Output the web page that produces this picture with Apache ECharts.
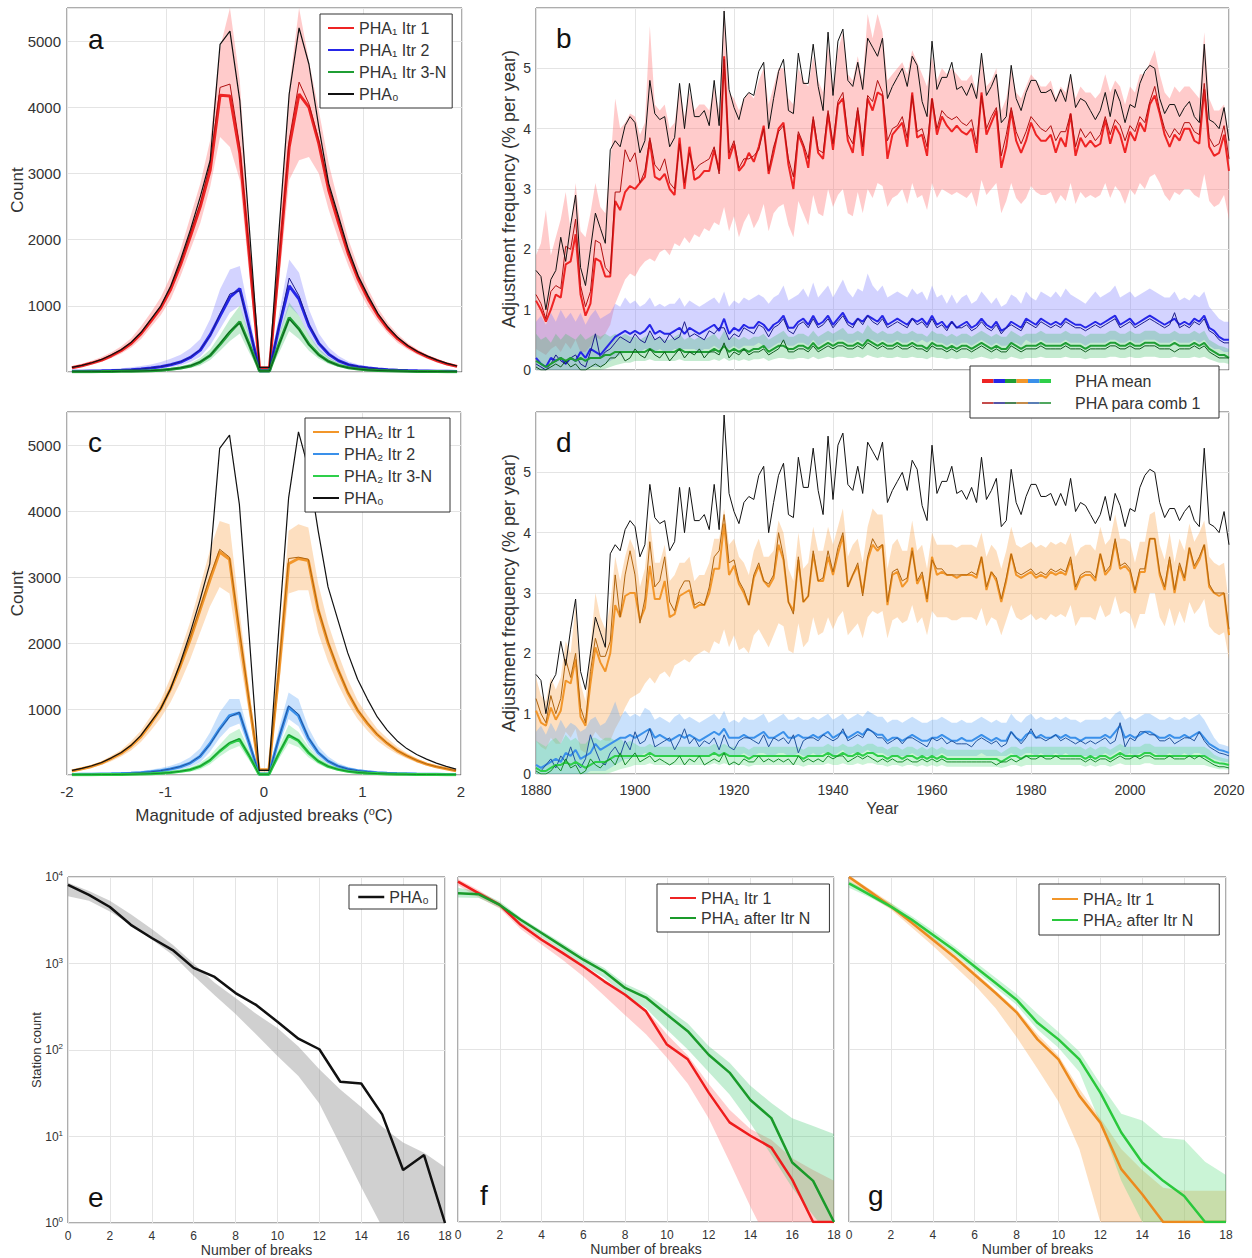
<!DOCTYPE html>
<html>
<head>
<meta charset="utf-8">
<title>PHA adjustments</title>
<script src="https://cdn.jsdelivr.net/npm/echarts@6.0.0/dist/echarts.min.js"></script>
<style>
  html, body { margin: 0; padding: 0; background: #fff; }
  #chart { width: 1252px; height: 1258px; }
</style>
</head>
<body>
<div id="chart"></div>
<script>
// ---------- panels a / c : magnitude of adjusted breaks ----------
const magBins = [-1.95,-1.85,-1.75,-1.65,-1.55,-1.45,-1.35,-1.25,-1.15,-1.05,-0.95,-0.85,-0.75,-0.65,-0.55,-0.45,-0.35,-0.25,-0.15,-0.05,
  0.05,0.15,0.25,0.35,0.45,0.55,0.65,0.75,0.85,0.95,1.05,1.15,1.25,1.35,1.45,1.55,1.65,1.75,1.85,1.95];

const pha0Mag = [70,100,140,190,260,340,450,600,800,1000,1300,1700,2150,2650,3200,4950,5150,4100,2100,70,
  70,2200,4200,5200,4650,3700,2850,2350,1850,1450,1150,880,680,520,400,310,240,180,130,90];

const pha1It1Mean = [65,95,135,180,245,325,430,580,770,970,1250,1620,2050,2500,3050,4180,4170,3300,1700,60,
  60,1700,3400,4200,4000,3450,2750,2250,1780,1400,1100,850,650,500,390,300,230,170,120,85];
const pha1It1Comb = [70,100,140,185,250,330,440,590,790,990,1280,1650,2100,2550,3150,4300,4350,3400,1750,65,
  65,1750,3500,4380,4050,3500,2800,2300,1800,1420,1120,860,660,510,395,305,235,175,125,90];
const pha1It1Lo = [50,75,110,150,210,280,370,500,680,860,1100,1450,1850,2250,2800,3550,3400,2900,1400,40,
  40,1400,2900,3200,3250,3000,2450,2000,1600,1250,980,760,580,440,340,260,195,140,100,65];
const pha1It1Hi = [90,125,170,225,300,390,510,690,900,1130,1450,1850,2350,2850,3500,4900,5500,4400,2100,90,
  90,2200,4300,5500,4700,3950,3150,2550,2000,1580,1250,960,740,570,440,340,260,200,145,105];

const pha1It2Mean = [10,12,15,18,22,28,35,45,60,80,110,150,220,330,560,850,1130,1260,650,20,
  20,700,1300,1100,700,430,270,170,110,80,60,45,35,28,22,18,15,12,10,8];
const pha1It2Comb = [10,12,15,18,22,28,35,45,62,82,112,155,225,340,550,880,1180,1230,640,20,
  20,720,1420,1150,720,440,275,172,112,82,61,46,36,29,23,18,15,12,10,8];
const pha1It2Lo = [5,6,8,10,12,15,20,25,35,50,70,100,150,230,400,650,900,1000,500,10,
  10,550,1000,850,550,330,200,130,80,55,40,30,22,18,14,11,9,7,6,5];
const pha1It2Hi = [20,24,30,35,45,55,70,90,115,150,200,260,360,500,800,1250,1550,1600,850,40,
  40,900,1700,1500,950,580,370,240,160,115,85,65,50,40,32,26,22,18,15,12];

const pha1It3Mean = [3,4,5,6,8,10,12,15,20,28,40,60,90,150,250,420,600,760,400,15,
  15,430,820,650,420,260,160,100,65,45,32,24,18,14,11,9,7,6,5,4];
const pha1It3Comb = [3,4,5,6,8,10,12,15,21,29,42,62,95,155,250,430,620,740,390,15,
  15,420,800,640,410,255,158,98,64,44,31,23,18,14,11,9,7,6,5,4];
const pha1It3Lo = [1,2,2,3,4,5,6,8,11,16,24,38,60,100,180,320,470,580,280,8,
  8,300,620,500,320,200,120,75,48,33,23,17,13,10,8,6,5,4,3,2];
const pha1It3Hi = [6,7,9,11,14,17,21,26,33,44,60,88,130,210,340,560,800,1000,550,25,
  25,580,1050,850,560,350,220,140,95,65,48,36,27,21,17,13,11,9,7,6];

const pha2It1Mean = [60,95,130,180,250,330,440,580,780,1000,1300,1650,2050,2500,2950,3380,3270,2150,1100,80,
  80,1550,3200,3280,3250,2500,2000,1600,1250,980,780,610,480,370,290,220,165,125,95,65];
const pha2It1Comb = [62,97,133,183,255,335,445,590,790,1010,1310,1670,2080,2530,3000,3420,3300,2200,1120,80,
  80,1600,3280,3300,3270,2520,2020,1610,1260,990,790,615,485,375,292,222,167,127,96,66];
const pha2It1Lo = [45,75,105,150,210,280,370,500,670,860,1100,1400,1750,2150,2550,2850,2750,1800,900,60,
  60,1300,2750,2800,2800,2150,1720,1380,1080,850,670,520,410,320,250,190,140,105,80,55];
const pha2It1Hi = [75,115,155,210,290,380,510,670,890,1130,1470,1870,2320,2850,3400,3850,3800,2500,1300,100,
  100,1800,3700,3800,3750,2900,2300,1850,1450,1130,900,700,560,430,335,255,190,145,110,80];

const pha2It2Mean = [8,10,12,15,18,22,28,36,48,65,90,125,180,280,470,700,900,940,480,15,
  15,550,1030,900,560,340,210,135,90,65,48,36,28,22,18,14,12,10,8,7];
const pha2It2Comb = [8,10,12,15,18,22,28,36,48,66,92,128,185,285,460,690,880,950,490,15,
  15,560,1050,920,570,345,212,137,91,66,49,37,28,22,18,14,12,10,8,7];
const pha2It2Lo = [4,5,6,8,10,12,16,20,27,38,55,80,120,190,350,560,720,780,380,8,
  8,430,850,740,450,270,165,105,70,50,37,28,21,17,13,11,9,7,6,5];
const pha2It2Hi = [15,18,22,27,33,40,50,62,80,105,140,190,270,400,640,950,1150,1150,600,30,
  30,700,1250,1150,720,440,280,180,125,90,68,52,40,32,26,21,17,14,12,10];

const pha2It3Mean = [3,4,5,6,7,9,11,14,19,26,37,55,80,130,220,360,480,540,290,10,
  10,320,600,520,340,210,130,85,55,38,28,21,16,13,10,8,7,6,5,4];
const pha2It3Comb = [3,4,5,6,7,9,11,14,19,26,38,56,82,132,225,365,490,550,295,10,
  10,330,610,525,345,212,132,86,56,39,28,21,16,13,10,8,7,6,5,4];
const pha2It3Lo = [1,2,2,3,3,4,5,7,10,14,21,33,50,85,160,280,380,440,220,5,
  5,240,480,420,270,165,100,65,42,29,21,16,12,9,7,6,5,4,3,2];
const pha2It3Hi = [6,7,8,10,12,15,18,23,30,40,55,80,115,180,290,460,620,700,380,20,
  20,420,760,650,430,270,170,110,72,50,37,28,21,17,14,11,9,8,7,6];

// ---------- panels b / d : adjustment frequency per year, 1880-2020 ----------
const years = [];
for (let y = 1880; y <= 2020; y++) years.push(y);

const pha0Year = [
  1.65,1.55,1.0,1.5,1.65,2.2,1.8,2.4,2.9,1.7,
  1.4,2.0,2.6,2.35,2.1,3.65,3.8,3.7,4.05,4.2,
  4.1,3.6,3.8,4.8,4.25,4.15,4.2,3.7,3.85,4.75,
  4.0,4.75,4.2,4.2,4.3,4.05,4.8,4.05,5.95,4.65,
  4.35,4.15,4.5,4.6,4.55,4.95,5.1,4.0,4.5,4.95,
  5.15,4.3,4.25,5.25,4.75,4.75,5.4,4.7,4.3,5.6,
  4.55,5.45,5.65,4.8,4.7,5.1,4.65,5.5,5.35,5.2,
  5.5,4.5,4.7,4.85,5.0,4.7,5.2,5.05,4.45,4.2,
  5.45,4.65,4.85,4.85,5.1,4.65,4.7,4.55,4.75,4.5,
  5.25,4.55,4.7,4.9,4.1,4.2,5.05,4.5,4.3,4.6,
  4.8,4.8,4.6,4.6,4.65,4.45,4.65,4.45,4.9,4.35,
  4.5,4.45,4.3,4.15,4.3,4.6,4.2,4.65,4.45,4.1,
  4.4,4.35,4.75,4.95,5.05,5.0,4.5,4.25,4.4,4.4,
  4.2,4.35,4.45,4.2,4.1,5.4,4.15,4.1,4.0,4.35,
  3.8];

const redMean = [
  1.15,1.0,0.8,1.0,1.25,1.2,1.75,1.8,2.25,1.25,
  0.9,1.1,1.85,1.8,1.55,1.55,2.8,2.65,2.95,3.05,
  3.0,3.1,3.2,3.8,3.2,3.15,3.25,3.0,2.9,3.85,
  3.0,3.7,3.15,3.2,3.3,3.3,3.65,3.3,5.2,3.5,
  3.75,3.3,3.4,3.6,3.45,3.7,4.05,3.25,3.6,4.0,
  4.1,3.4,3.0,3.9,3.7,3.35,4.15,3.6,3.5,4.25,
  3.65,4.4,4.5,3.8,3.6,4.3,3.55,4.5,4.3,4.6,
  4.55,3.5,3.9,4.0,4.1,3.7,4.6,3.85,3.9,3.55,
  4.5,3.9,4.2,4.05,3.95,4.05,3.95,3.9,4.0,3.6,
  4.6,3.9,4.1,4.3,3.35,3.7,4.3,3.8,3.6,3.8,
  4.1,3.9,3.8,3.8,3.9,3.6,3.85,3.7,4.25,3.55,
  3.85,3.7,3.8,3.7,3.75,4.15,3.75,4.05,3.9,3.6,
  3.95,3.8,4.1,3.95,4.4,4.55,4.25,3.9,3.7,3.9,
  3.8,4.0,4.0,3.8,3.75,4.65,3.7,3.55,3.6,3.9,
  3.3];
const redComb = [
  1.25,1.1,0.85,1.3,1.4,1.35,2.05,2.0,2.5,1.4,
  1.05,1.3,2.15,2.1,1.7,1.6,2.95,2.95,3.65,3.45,
  3.6,3.1,3.3,3.85,3.4,3.3,3.5,3.1,3.0,3.75,
  3.1,3.6,3.3,3.4,3.45,3.5,3.7,3.25,5.15,3.6,
  3.8,3.35,3.5,3.5,3.55,3.65,4.0,3.3,3.7,3.95,
  4.05,3.5,3.2,3.95,3.75,3.5,4.2,3.65,3.6,4.3,
  3.75,4.45,4.6,3.9,3.75,4.35,3.7,4.55,4.45,4.8,
  4.6,3.8,4.0,4.05,4.2,3.85,4.55,3.95,4.0,3.7,
  4.5,4.0,4.3,4.2,4.15,4.2,4.1,4.05,4.15,3.75,
  4.55,4.0,4.2,4.35,3.55,3.9,4.35,3.95,3.75,3.95,
  4.2,4.1,4.0,3.95,4.05,3.8,3.95,3.95,4.25,3.7,
  4.0,3.85,3.95,3.8,3.9,4.2,3.9,4.15,4.05,3.8,
  4.05,3.95,4.2,4.1,4.45,4.7,4.3,4.0,3.85,4.0,
  3.9,4.1,4.1,3.95,3.9,4.75,3.85,3.7,3.75,4.05,
  3.5];
const redLo = [
  0.35,0.3,0.25,0.35,0.4,0.3,0.45,0.35,0.5,0.3,
  0.3,0.4,0.55,0.5,0.6,0.75,1.1,1.3,1.5,1.6,
  1.55,1.7,1.8,1.85,1.8,1.95,2.0,1.9,2.1,2.05,
  2.2,2.1,2.25,2.2,2.35,2.3,2.45,2.4,2.7,2.3,
  2.55,2.2,2.45,2.6,2.35,2.5,2.75,2.3,2.6,2.7,
  2.75,2.4,2.2,2.8,2.6,2.4,2.9,2.6,2.55,3.0,
  2.7,2.9,3.0,2.6,2.55,2.95,2.6,3.0,2.85,3.1,
  3.05,2.7,2.85,2.9,3.0,2.75,3.1,2.85,2.9,2.65,
  3.1,2.85,3.0,2.95,2.9,2.95,2.9,2.85,2.95,2.7,
  3.15,2.9,3.0,3.1,2.6,2.8,3.1,2.85,2.75,2.85,
  3.05,2.95,2.9,2.9,2.95,2.75,2.9,2.8,3.1,2.75,
  2.95,2.85,2.9,2.85,2.9,3.1,2.85,3.05,2.95,2.75,
  3.0,2.9,3.1,3.0,3.2,3.25,3.1,2.9,2.8,2.95,
  2.9,3.0,3.0,2.9,2.85,3.25,2.8,2.7,2.75,2.9,
  2.5];
const redHi = [
  1.9,2.1,2.65,1.9,2.2,2.5,2.95,2.3,3.1,2.3,
  2.2,2.6,3.1,2.7,2.6,3.4,4.5,4.0,4.1,4.25,
  4.2,3.9,4.1,5.7,4.4,4.3,4.4,4.0,4.1,4.7,
  4.2,4.6,4.3,4.4,4.4,4.3,4.7,4.3,6.0,4.6,
  4.5,4.3,4.5,4.6,4.5,4.8,5.0,4.4,4.7,5.0,
  5.0,4.5,4.4,5.0,4.8,4.7,5.2,4.8,4.6,5.4,
  4.7,5.3,5.6,4.9,4.8,5.2,4.8,5.9,5.5,5.9,
  5.6,4.8,4.9,5.0,5.1,4.9,5.3,5.1,4.9,4.7,
  5.2,4.8,5.0,4.9,5.0,4.9,4.8,4.8,4.9,4.6,
  5.2,4.7,4.8,5.0,4.3,4.5,5.0,4.6,4.5,4.7,
  4.9,4.8,4.7,4.7,4.8,4.5,4.7,4.6,4.9,4.5,
  4.7,4.6,4.6,4.5,4.6,4.9,4.6,4.8,4.7,4.4,
  4.7,4.6,4.9,4.9,5.1,5.3,4.9,4.6,4.5,4.7,
  4.6,4.7,4.7,4.6,4.5,5.6,4.5,4.3,4.3,4.4,
  3.9];

const blueMean = [
  0.2,0.1,0.05,0.2,0.15,0.2,0.1,0.2,0.15,0.3,
  0.2,0.35,0.3,0.25,0.35,0.45,0.55,0.6,0.65,0.6,
  0.65,0.6,0.65,0.75,0.6,0.65,0.6,0.6,0.65,0.7,
  0.6,0.7,0.65,0.6,0.65,0.7,0.75,0.65,0.85,0.6,
  0.7,0.65,0.75,0.7,0.7,0.8,0.75,0.65,0.75,0.8,
  0.9,0.7,0.7,0.8,0.85,0.75,0.9,0.75,0.8,0.9,
  0.75,0.85,0.95,0.8,0.75,0.85,0.8,0.9,0.85,0.8,
  0.9,0.75,0.8,0.85,0.8,0.75,0.85,0.8,0.85,0.75,
  0.9,0.75,0.8,0.7,0.8,0.7,0.75,0.8,0.7,0.75,
  0.85,0.75,0.7,0.8,0.65,0.7,0.8,0.75,0.7,0.85,
  0.8,0.75,0.85,0.8,0.75,0.8,0.75,0.85,0.8,0.75,
  0.75,0.7,0.75,0.8,0.75,0.8,0.85,0.9,0.75,0.8,
  0.85,0.75,0.8,0.85,0.9,0.85,0.8,0.75,0.8,0.85,
  0.75,0.8,0.75,0.85,0.8,0.9,0.7,0.65,0.55,0.5,
  0.5];
const blueComb = [
  0.1,0.05,0.0,0.1,0.25,0.15,0.1,0.2,0.25,0.1,
  0.05,0.3,0.6,0.2,0.3,0.35,0.45,0.55,0.5,0.45,
  0.6,0.5,0.45,0.65,0.5,0.55,0.45,0.6,0.5,0.55,
  0.8,0.55,0.6,0.55,0.5,0.65,0.6,0.7,0.7,0.5,
  0.6,0.55,0.7,0.65,0.6,0.75,0.7,0.55,0.7,0.75,
  0.85,0.65,0.6,0.75,0.8,0.7,0.85,0.7,0.75,0.85,
  0.7,0.8,0.9,0.75,0.7,0.85,0.75,0.9,0.8,0.75,
  0.85,0.7,0.75,0.8,0.75,0.7,0.85,0.75,0.8,0.7,
  0.85,0.7,0.75,0.65,0.8,0.7,0.7,0.75,0.65,0.7,
  0.8,0.7,0.65,0.75,0.6,0.7,0.75,0.7,0.65,0.8,
  0.75,0.7,0.8,0.75,0.7,0.75,0.7,0.8,0.75,0.7,
  0.7,0.65,0.7,0.75,0.7,0.75,0.8,0.85,0.7,0.75,
  0.8,0.7,0.75,0.8,0.85,0.8,0.75,0.7,0.75,0.95,
  0.7,0.75,0.7,0.8,0.75,0.85,0.65,0.6,0.5,0.45,
  0.45];
const blueLo = [
  0,0,0,0,0,0,0,0,0,0,
  0,0.05,0.05,0.05,0.1,0.15,0.2,0.25,0.3,0.3,
  0.3,0.3,0.35,0.35,0.3,0.35,0.3,0.3,0.35,0.35,
  0.35,0.35,0.35,0.3,0.35,0.35,0.4,0.35,0.4,0.35,
  0.4,0.35,0.4,0.4,0.4,0.45,0.4,0.35,0.4,0.45,
  0.45,0.4,0.4,0.45,0.45,0.4,0.5,0.4,0.45,0.5,
  0.45,0.5,0.5,0.45,0.45,0.5,0.45,0.5,0.5,0.45,
  0.5,0.45,0.45,0.5,0.45,0.45,0.5,0.45,0.5,0.45,
  0.5,0.45,0.45,0.4,0.45,0.4,0.45,0.45,0.4,0.45,
  0.5,0.45,0.4,0.45,0.4,0.4,0.45,0.45,0.4,0.5,
  0.45,0.45,0.5,0.45,0.45,0.45,0.45,0.5,0.45,0.45,
  0.45,0.4,0.45,0.45,0.45,0.45,0.5,0.5,0.45,0.45,
  0.5,0.45,0.45,0.5,0.5,0.5,0.45,0.45,0.45,0.5,
  0.45,0.45,0.45,0.5,0.45,0.5,0.4,0.35,0.35,0.3,
  0.3];
const blueHi = [
  0.8,0.9,0.75,0.95,0.8,1.0,0.85,0.95,0.8,0.95,
  0.75,0.9,1.0,0.85,0.9,0.95,1.1,1.05,1.2,1.1,
  1.15,1.05,1.1,1.2,1.05,1.1,1.05,1.1,1.1,1.2,
  1.05,1.15,1.1,1.05,1.1,1.15,1.2,1.1,1.3,1.05,
  1.15,1.1,1.2,1.15,1.2,1.25,1.2,1.1,1.2,1.25,
  1.4,1.15,1.2,1.25,1.35,1.2,1.45,1.2,1.3,1.4,
  1.2,1.35,1.5,1.3,1.2,1.35,1.3,1.6,1.4,1.3,
  1.4,1.2,1.25,1.3,1.25,1.2,1.35,1.25,1.3,1.15,
  1.4,1.2,1.25,1.1,1.25,1.1,1.2,1.25,1.1,1.15,
  1.3,1.2,1.1,1.2,1.05,1.1,1.25,1.2,1.1,1.3,
  1.2,1.15,1.3,1.25,1.2,1.3,1.2,1.35,1.25,1.2,
  1.15,1.1,1.2,1.3,1.2,1.25,1.3,1.4,1.2,1.25,
  1.3,1.2,1.25,1.3,1.35,1.3,1.25,1.2,1.2,1.3,
  1.15,1.2,1.15,1.25,1.2,1.3,1.05,0.95,0.85,0.8,
  0.8];

const greenMean = [
  0.15,0.1,0.05,0.1,0.15,0.2,0.15,0.2,0.15,0.2,
  0.15,0.2,0.2,0.2,0.25,0.25,0.3,0.3,0.3,0.3,
  0.3,0.3,0.3,0.35,0.3,0.3,0.3,0.3,0.3,0.35,
  0.3,0.3,0.3,0.3,0.3,0.3,0.35,0.3,0.4,0.3,
  0.35,0.3,0.35,0.3,0.35,0.35,0.4,0.3,0.35,0.4,
  0.4,0.35,0.35,0.4,0.4,0.35,0.45,0.35,0.4,0.45,
  0.4,0.45,0.45,0.4,0.4,0.45,0.4,0.5,0.45,0.4,
  0.45,0.4,0.4,0.45,0.4,0.4,0.45,0.4,0.4,0.35,
  0.45,0.4,0.4,0.35,0.4,0.35,0.4,0.4,0.35,0.4,
  0.45,0.4,0.35,0.4,0.35,0.35,0.45,0.4,0.35,0.4,
  0.4,0.4,0.45,0.4,0.4,0.4,0.4,0.45,0.4,0.4,
  0.4,0.35,0.4,0.4,0.4,0.4,0.45,0.45,0.4,0.4,
  0.45,0.4,0.4,0.45,0.45,0.45,0.4,0.4,0.4,0.45,
  0.4,0.4,0.4,0.45,0.4,0.45,0.35,0.3,0.25,0.25,
  0.2];
const greenComb = [
  0.05,0.0,0.0,0.05,0.1,0.05,0.15,0.05,0.1,0.0,
  0.0,0.05,0.1,0.05,0.1,0.2,0.2,0.3,0.15,0.2,
  0.35,0.25,0.2,0.35,0.25,0.2,0.3,0.15,0.25,0.35,
  0.2,0.3,0.25,0.35,0.2,0.3,0.3,0.25,0.45,0.2,
  0.3,0.25,0.35,0.25,0.3,0.3,0.35,0.25,0.3,0.35,
  0.5,0.3,0.3,0.35,0.35,0.3,0.4,0.3,0.35,0.4,
  0.35,0.4,0.4,0.35,0.35,0.4,0.35,0.45,0.4,0.35,
  0.4,0.35,0.35,0.4,0.35,0.35,0.4,0.35,0.35,0.3,
  0.4,0.35,0.35,0.3,0.35,0.3,0.35,0.35,0.3,0.35,
  0.4,0.35,0.3,0.35,0.3,0.3,0.4,0.35,0.3,0.35,
  0.35,0.35,0.4,0.35,0.35,0.35,0.35,0.4,0.35,0.35,
  0.35,0.3,0.35,0.35,0.35,0.35,0.4,0.4,0.35,0.35,
  0.4,0.35,0.35,0.4,0.4,0.4,0.35,0.35,0.35,0.3,
  0.35,0.35,0.35,0.4,0.35,0.4,0.3,0.25,0.2,0.2,
  0.2];
const greenLo = [
  0,0,0,0,0,0,0,0,0,0,
  0,0,0,0,0.02,0.05,0.08,0.1,0.12,0.12,
  0.15,0.15,0.15,0.18,0.15,0.15,0.15,0.15,0.15,0.18,
  0.15,0.15,0.15,0.15,0.15,0.15,0.18,0.15,0.2,0.15,
  0.18,0.15,0.18,0.15,0.18,0.18,0.2,0.15,0.18,0.2,
  0.2,0.18,0.18,0.2,0.2,0.18,0.22,0.18,0.2,0.22,
  0.2,0.22,0.22,0.2,0.2,0.22,0.2,0.25,0.22,0.2,
  0.22,0.2,0.2,0.22,0.2,0.2,0.22,0.2,0.2,0.18,
  0.22,0.2,0.2,0.18,0.2,0.18,0.2,0.2,0.18,0.2,
  0.22,0.2,0.18,0.2,0.18,0.18,0.22,0.2,0.18,0.2,
  0.2,0.2,0.22,0.2,0.2,0.2,0.2,0.22,0.2,0.2,
  0.2,0.18,0.2,0.2,0.2,0.2,0.22,0.22,0.2,0.2,
  0.22,0.2,0.2,0.22,0.22,0.22,0.2,0.2,0.2,0.22,
  0.2,0.2,0.2,0.22,0.2,0.22,0.18,0.15,0.12,0.12,
  0.1];
const greenHi = [
  0.6,0.5,0.55,0.45,0.6,0.5,0.6,0.55,0.5,0.6,
  0.5,0.55,0.6,0.55,0.6,0.55,0.6,0.55,0.6,0.55,
  0.55,0.5,0.55,0.6,0.5,0.55,0.5,0.5,0.55,0.6,
  0.5,0.55,0.5,0.55,0.5,0.55,0.6,0.5,0.65,0.5,
  0.55,0.5,0.55,0.5,0.55,0.55,0.6,0.5,0.55,0.6,
  0.65,0.55,0.55,0.6,0.6,0.55,0.65,0.55,0.6,0.65,
  0.6,0.65,0.7,0.6,0.6,0.65,0.6,0.75,0.65,0.6,
  0.65,0.6,0.6,0.65,0.6,0.6,0.65,0.6,0.6,0.55,
  0.65,0.6,0.6,0.55,0.6,0.55,0.6,0.6,0.55,0.6,
  0.65,0.6,0.55,0.6,0.55,0.55,0.65,0.6,0.55,0.6,
  0.6,0.6,0.65,0.6,0.6,0.6,0.6,0.65,0.6,0.6,
  0.6,0.55,0.6,0.6,0.6,0.6,0.65,0.65,0.6,0.6,
  0.65,0.6,0.6,0.65,0.65,0.65,0.6,0.6,0.6,0.65,
  0.6,0.6,0.6,0.65,0.6,0.65,0.5,0.45,0.4,0.38,
  0.35];

const orangeMean = [
  1.05,0.85,0.8,1.1,0.9,1.05,1.55,1.5,1.9,0.95,
  0.8,1.5,2.1,1.85,1.7,2.0,2.8,2.6,2.95,3.0,
  3.0,2.55,2.75,3.45,2.9,2.9,3.2,2.6,2.65,2.95,
  3.0,3.05,2.75,2.8,2.8,3.0,3.4,3.4,4.15,3.3,
  3.45,3.15,3.0,2.8,3.25,3.45,3.2,3.1,3.25,3.8,
  3.55,2.85,2.7,3.55,2.85,2.95,3.65,3.2,3.2,3.6,
  3.3,3.65,3.95,3.1,3.3,3.45,3.0,3.55,3.8,3.7,
  3.8,2.8,3.3,3.35,3.1,3.2,3.75,3.15,3.3,2.85,
  3.6,3.3,3.35,3.3,3.3,3.25,3.3,3.3,3.3,3.25,
  3.6,3.05,3.35,3.2,2.85,3.2,3.65,3.3,3.25,3.3,
  3.35,3.25,3.3,3.25,3.35,3.3,3.35,3.3,3.55,3.05,
  3.25,3.3,3.3,3.2,3.65,3.3,3.4,3.85,3.4,3.45,
  3.35,3.0,3.35,3.35,3.9,3.9,3.3,3.05,3.55,3.0,
  3.45,3.2,3.75,3.4,3.55,3.8,3.1,3.0,2.95,3.0,
  2.3];
const orangeComb = [
  1.25,1.0,0.85,1.3,1.0,1.25,1.9,1.6,2.0,1.1,
  0.85,1.7,2.25,1.95,1.95,2.2,3.3,2.6,3.3,3.7,
  3.3,2.5,2.9,3.85,3.1,3.2,3.6,2.85,2.7,3.05,
  3.2,3.2,2.8,2.85,2.8,3.1,3.6,3.7,4.3,3.5,
  3.55,3.2,3.05,2.8,3.3,3.5,3.2,3.15,3.3,4.0,
  3.6,2.85,2.65,3.6,2.85,2.95,3.7,3.2,3.25,3.7,
  3.35,3.75,4.0,3.1,3.3,3.5,2.95,3.6,3.9,3.75,
  3.8,2.85,3.35,3.4,3.2,3.25,3.7,3.2,3.35,2.9,
  3.55,3.4,3.4,3.3,3.3,3.3,3.3,3.3,3.35,3.3,
  3.6,3.1,3.35,3.25,2.9,3.25,3.65,3.35,3.3,3.35,
  3.4,3.3,3.35,3.3,3.4,3.35,3.4,3.35,3.6,3.1,
  3.3,3.35,3.35,3.25,3.65,3.35,3.45,3.9,3.45,3.5,
  3.4,3.05,3.4,3.4,3.9,3.9,3.35,3.1,3.6,3.05,
  3.5,3.25,3.75,3.45,3.6,3.8,3.15,3.0,3.0,3.0,
  2.4];
const orangeLo = [
  0.55,0.45,0.4,0.6,0.5,0.5,0.7,0.6,0.75,0.4,
  0.35,0.55,0.7,0.6,0.55,0.55,0.75,0.9,1.1,1.25,
  1.3,1.35,1.5,1.6,1.5,1.65,1.7,1.6,1.8,1.85,
  1.9,1.85,1.95,2.0,2.05,2.0,2.2,2.15,2.4,2.1,
  2.3,2.05,2.1,2.0,2.3,2.4,2.25,2.1,2.3,2.5,
  2.45,2.05,2.0,2.5,2.1,2.2,2.6,2.3,2.35,2.6,
  2.4,2.6,2.7,2.3,2.4,2.5,2.25,2.6,2.7,2.65,
  2.7,2.25,2.55,2.6,2.5,2.55,2.8,2.5,2.6,2.3,
  2.7,2.6,2.6,2.6,2.55,2.55,2.6,2.6,2.6,2.55,
  2.75,2.45,2.6,2.55,2.3,2.55,2.8,2.6,2.55,2.6,
  2.65,2.55,2.6,2.55,2.65,2.6,2.65,2.6,2.8,2.45,
  2.6,2.6,2.6,2.55,2.8,2.6,2.65,2.95,2.65,2.7,
  2.65,2.4,2.65,2.65,3.0,3.0,2.6,2.45,2.75,2.45,
  2.7,2.5,2.85,2.65,2.75,2.9,2.45,2.35,2.3,2.35,
  1.9];
const orangeHi = [
  1.6,1.3,1.2,1.6,1.4,1.6,2.2,2.0,2.8,1.5,
  1.2,2.1,3.0,2.6,2.4,2.8,3.6,3.2,3.6,3.9,
  3.7,3.1,3.4,4.2,3.5,3.5,3.8,3.2,3.3,3.5,
  3.5,3.6,3.2,3.3,3.3,3.5,3.9,3.9,4.4,3.8,
  3.9,3.6,3.5,3.3,3.7,3.9,3.6,3.6,3.7,4.2,
  4.0,3.4,3.2,4.0,3.4,3.5,4.1,3.7,3.7,4.1,
  3.8,4.1,4.4,3.6,3.8,3.9,3.5,4.1,4.4,4.3,
  4.3,3.4,3.8,3.9,3.7,3.7,4.2,3.7,3.8,3.4,
  4.0,3.8,3.8,3.8,3.8,3.75,3.8,3.8,3.8,3.75,
  4.0,3.6,3.8,3.7,3.4,3.7,4.1,3.8,3.75,3.8,
  3.85,3.75,3.8,3.75,3.85,3.8,3.85,3.8,4.0,3.6,
  3.75,3.8,3.8,3.7,4.1,3.8,3.9,4.3,3.9,3.9,
  3.85,3.5,3.85,3.85,4.3,4.35,3.8,3.55,4.0,3.5,
  3.9,3.7,4.15,3.85,4.0,4.2,3.6,3.5,3.45,3.5,
  2.8];

const ltBlueMean = [
  0.15,0.1,0.15,0.2,0.25,0.2,0.35,0.3,0.4,0.25,
  0.3,0.35,0.5,0.4,0.45,0.5,0.55,0.6,0.6,0.65,
  0.6,0.65,0.7,0.75,0.6,0.65,0.6,0.55,0.6,0.65,
  0.6,0.65,0.6,0.55,0.6,0.65,0.7,0.65,0.75,0.6,
  0.6,0.6,0.65,0.6,0.6,0.65,0.7,0.6,0.6,0.65,
  0.7,0.6,0.6,0.65,0.6,0.6,0.65,0.6,0.65,0.7,
  0.6,0.65,0.7,0.6,0.65,0.7,0.65,0.75,0.7,0.65,
  0.65,0.55,0.6,0.6,0.55,0.6,0.65,0.6,0.55,0.55,
  0.6,0.6,0.65,0.6,0.55,0.55,0.6,0.55,0.55,0.6,
  0.65,0.6,0.55,0.6,0.55,0.55,0.7,0.6,0.55,0.65,
  0.7,0.6,0.65,0.6,0.6,0.65,0.6,0.65,0.6,0.6,
  0.55,0.6,0.6,0.6,0.6,0.65,0.6,0.7,0.8,0.6,
  0.65,0.6,0.65,0.7,0.7,0.65,0.6,0.6,0.65,0.6,
  0.6,0.65,0.6,0.65,0.7,0.6,0.5,0.45,0.4,0.38,
  0.35];
const ltBlueComb = [
  0.1,0.05,0.15,0.25,0.1,0.3,0.2,0.45,0.2,0.1,
  0.25,0.65,0.4,0.2,0.15,0.35,0.45,0.3,0.55,0.4,
  0.7,0.5,0.55,0.75,0.45,0.5,0.55,0.6,0.4,0.55,
  0.75,0.5,0.6,0.45,0.55,0.5,0.6,0.4,0.65,0.45,
  0.4,0.55,0.6,0.6,0.55,0.5,0.65,0.45,0.6,0.55,
  0.6,0.5,0.65,0.35,0.55,0.6,0.6,0.55,0.65,0.6,
  0.55,0.6,0.75,0.55,0.6,0.65,0.6,0.75,0.7,0.6,
  0.6,0.5,0.55,0.6,0.5,0.6,0.6,0.55,0.5,0.45,
  0.6,0.55,0.6,0.5,0.55,0.5,0.5,0.5,0.45,0.55,
  0.6,0.55,0.5,0.55,0.45,0.5,0.7,0.6,0.5,0.6,
  0.75,0.6,0.6,0.55,0.6,0.65,0.55,0.6,0.55,0.5,
  0.55,0.5,0.55,0.5,0.55,0.6,0.5,0.55,0.85,0.45,
  0.6,0.55,0.7,0.7,0.65,0.65,0.55,0.55,0.6,0.5,
  0.55,0.6,0.6,0.55,0.7,0.55,0.45,0.4,0.35,0.33,
  0.3];
const ltBlueLo = [
  0,0,0,0,0,0,0,0,0,0,
  0,0.05,0.05,0.05,0.05,0.1,0.15,0.2,0.25,0.25,
  0.3,0.3,0.35,0.35,0.3,0.3,0.3,0.3,0.3,0.3,
  0.3,0.3,0.3,0.3,0.3,0.3,0.35,0.3,0.35,0.3,
  0.3,0.3,0.35,0.3,0.3,0.35,0.35,0.3,0.3,0.35,
  0.35,0.3,0.3,0.35,0.3,0.3,0.35,0.3,0.35,0.35,
  0.3,0.35,0.4,0.3,0.35,0.35,0.35,0.4,0.35,0.35,
  0.35,0.3,0.3,0.3,0.3,0.3,0.35,0.3,0.3,0.3,
  0.3,0.3,0.35,0.3,0.3,0.3,0.3,0.3,0.3,0.3,
  0.35,0.3,0.3,0.3,0.3,0.3,0.35,0.3,0.3,0.35,
  0.35,0.3,0.35,0.3,0.3,0.35,0.3,0.35,0.3,0.3,
  0.3,0.3,0.3,0.3,0.3,0.35,0.3,0.35,0.4,0.3,
  0.35,0.3,0.35,0.35,0.35,0.35,0.3,0.3,0.35,0.3,
  0.3,0.35,0.3,0.35,0.35,0.3,0.28,0.25,0.22,0.2,
  0.2];
const ltBlueHi = [
  0.7,0.8,0.65,0.85,0.7,0.9,0.75,0.85,0.8,0.7,
  0.75,0.9,0.95,0.8,0.85,1.0,1.2,0.95,1.05,0.95,
  1.0,0.95,1.1,1.05,0.9,0.95,0.9,0.85,0.95,1.0,
  0.9,0.95,0.9,0.85,0.9,0.95,1.0,0.9,1.05,0.85,
  0.9,0.85,0.95,0.9,0.9,0.95,1.0,0.85,0.9,0.95,
  1.0,0.9,0.9,0.95,0.9,0.9,0.95,0.9,0.95,1.0,
  0.9,0.95,1.0,0.9,0.95,1.0,0.95,1.05,1.0,0.95,
  0.95,0.85,0.9,0.9,0.85,0.9,0.95,0.9,0.85,0.85,
  0.9,0.9,0.95,0.9,0.85,0.85,0.9,0.85,0.85,0.9,
  0.95,0.9,0.85,0.9,0.85,0.85,1.0,0.9,0.85,0.95,
  1.0,0.9,0.95,0.9,0.9,0.95,0.9,0.95,0.9,0.9,
  0.85,0.9,0.9,0.9,0.9,0.95,0.9,1.0,1.05,0.9,
  0.95,0.9,0.95,1.0,1.0,0.95,0.9,0.9,0.95,0.9,
  0.9,0.95,0.9,0.95,1.0,0.9,0.75,0.6,0.5,0.48,
  0.45];

const ltGreenMean = [
  0.1,0.05,0.05,0.1,0.15,0.15,0.2,0.15,0.2,0.15,
  0.1,0.15,0.2,0.2,0.2,0.25,0.3,0.3,0.3,0.3,
  0.3,0.3,0.3,0.35,0.3,0.3,0.3,0.3,0.3,0.3,
  0.3,0.3,0.3,0.3,0.3,0.3,0.35,0.3,0.35,0.3,
  0.3,0.3,0.3,0.25,0.3,0.3,0.3,0.3,0.3,0.3,
  0.3,0.3,0.3,0.3,0.25,0.3,0.3,0.3,0.3,0.35,
  0.3,0.3,0.35,0.3,0.3,0.35,0.3,0.35,0.35,0.3,
  0.3,0.25,0.3,0.3,0.25,0.3,0.3,0.25,0.3,0.25,
  0.3,0.25,0.3,0.25,0.25,0.25,0.25,0.25,0.25,0.25,
  0.25,0.25,0.25,0.25,0.2,0.25,0.3,0.3,0.25,0.3,
  0.3,0.3,0.3,0.3,0.3,0.3,0.3,0.3,0.3,0.3,
  0.3,0.25,0.3,0.25,0.3,0.3,0.25,0.3,0.35,0.3,
  0.3,0.3,0.3,0.35,0.35,0.3,0.3,0.3,0.3,0.3,
  0.3,0.3,0.3,0.3,0.3,0.3,0.25,0.2,0.18,0.17,
  0.15];
const ltGreenComb = [
  0.05,0.0,0.0,0.05,0.15,0.05,0.25,0.1,0.15,0.0,
  0.05,0.25,0.15,0.1,0.2,0.25,0.15,0.35,0.15,0.25,
  0.35,0.2,0.25,0.3,0.2,0.25,0.2,0.15,0.2,0.3,
  0.15,0.25,0.2,0.3,0.15,0.2,0.25,0.2,0.35,0.15,
  0.2,0.15,0.25,0.2,0.2,0.3,0.2,0.25,0.2,0.25,
  0.2,0.25,0.15,0.3,0.2,0.25,0.2,0.25,0.2,0.3,
  0.25,0.3,0.3,0.2,0.25,0.3,0.25,0.3,0.25,0.2,
  0.25,0.2,0.25,0.2,0.2,0.25,0.2,0.2,0.25,0.2,
  0.25,0.2,0.25,0.2,0.2,0.2,0.2,0.2,0.2,0.2,
  0.2,0.2,0.2,0.15,0.2,0.2,0.25,0.2,0.25,0.3,
  0.25,0.25,0.3,0.25,0.25,0.3,0.25,0.25,0.25,0.25,
  0.25,0.2,0.25,0.2,0.25,0.25,0.2,0.25,0.3,0.25,
  0.25,0.3,0.25,0.3,0.3,0.25,0.25,0.25,0.3,0.25,
  0.25,0.25,0.3,0.25,0.3,0.25,0.2,0.15,0.12,0.12,
  0.1];
const ltGreenLo = [
  0,0,0,0,0,0,0,0,0,0,
  0,0,0,0,0,0.02,0.05,0.08,0.1,0.12,
  0.15,0.15,0.15,0.18,0.15,0.15,0.15,0.15,0.15,0.15,
  0.15,0.15,0.15,0.15,0.15,0.15,0.18,0.15,0.18,0.15,
  0.15,0.15,0.15,0.12,0.15,0.15,0.15,0.15,0.15,0.15,
  0.15,0.15,0.15,0.15,0.12,0.15,0.15,0.15,0.15,0.18,
  0.15,0.15,0.18,0.15,0.15,0.18,0.15,0.18,0.18,0.15,
  0.15,0.12,0.15,0.15,0.12,0.15,0.15,0.12,0.15,0.12,
  0.15,0.12,0.15,0.12,0.12,0.12,0.12,0.12,0.12,0.12,
  0.12,0.12,0.12,0.12,0.1,0.12,0.15,0.15,0.12,0.15,
  0.15,0.15,0.15,0.15,0.15,0.15,0.15,0.15,0.15,0.15,
  0.15,0.12,0.15,0.12,0.15,0.15,0.12,0.15,0.18,0.15,
  0.15,0.15,0.15,0.18,0.18,0.15,0.15,0.15,0.15,0.15,
  0.15,0.15,0.15,0.15,0.15,0.15,0.12,0.1,0.08,0.08,
  0.07];
const ltGreenHi = [
  0.55,0.5,0.45,0.55,0.6,0.5,0.65,0.55,0.6,0.5,
  0.5,0.6,0.6,0.55,0.6,0.6,0.55,0.6,0.5,0.55,
  0.5,0.45,0.45,0.5,0.45,0.45,0.45,0.45,0.45,0.45,
  0.45,0.45,0.45,0.45,0.45,0.45,0.5,0.45,0.5,0.45,
  0.45,0.45,0.45,0.4,0.45,0.45,0.45,0.45,0.45,0.45,
  0.45,0.45,0.45,0.45,0.4,0.45,0.45,0.45,0.45,0.5,
  0.45,0.45,0.5,0.45,0.45,0.5,0.45,0.5,0.5,0.45,
  0.45,0.4,0.45,0.45,0.4,0.45,0.45,0.4,0.45,0.4,
  0.45,0.4,0.45,0.4,0.4,0.4,0.4,0.4,0.4,0.4,
  0.4,0.4,0.4,0.4,0.35,0.4,0.45,0.45,0.4,0.45,
  0.45,0.45,0.45,0.45,0.45,0.45,0.45,0.45,0.45,0.45,
  0.45,0.4,0.45,0.4,0.45,0.45,0.4,0.45,0.5,0.45,
  0.45,0.45,0.45,0.5,0.5,0.45,0.45,0.45,0.45,0.45,
  0.45,0.45,0.45,0.45,0.45,0.45,0.4,0.32,0.28,0.26,
  0.24];

// ---------- panels e / f / g : station count vs number of breaks ----------
const nBreaks = [0,1,2,3,4,5,6,7,8,9,10,11,12,13,14,15,16,17,18];
const ePha0   = [8100,6200,4500,2800,1970,1430,890,700,455,330,212,135,102,43,41,18,4.1,6.1,1];
const eBandHi = [8600,6900,5300,3700,2500,1650,1000,600,400,260,180,110,60,35,22,13,8.5,6.5,4.4];
const eBandLo = [6000,5300,4000,2800,1900,1250,720,430,260,150,85,50,24,8,2.6,0.9,0.3,0.1,0.05];

const fPha1It1 = [8830,6470,4740,2790,1870,1320,918,617,432,277,114,77,31.6,14.3,10,7.3,3.1,1,1];
const fPha1N   = [6470,6300,4740,3190,2240,1570,1100,803,517,400,254,163,87,54,26,16,4.9,3.0,1];
const fRedHi   = [9500,7000,5000,3000,2000,1400,950,640,440,290,150,85,40,20,12,9,5.5,4,3];
const fRedLo   = [8000,5800,4300,2500,1650,1100,700,420,250,150,80,40,16,5,1.5,0.5,0.2,0.1,0.05];
const fGrnHi   = [7500,6800,5200,3400,2400,1700,1200,880,580,450,300,200,110,70,38,24,16,13,10.5];
const fGrnLo   = [5800,5700,4400,2900,2000,1400,950,680,420,300,170,100,55,30,14,6,2.5,1.2,0.6];

const gPha2It1 = [10000,6770,4540,2940,1870,1200,736,452,270,131,77,29,14.2,4.1,2.1,1,1,1,1];
const gPha2N   = [8450,6190,4540,3190,2140,1430,918,590,378,204,131,77,31.6,10.9,4.9,3.0,2.0,1,1];
const gOrgHi   = [10500,7200,5000,3200,2000,1300,800,480,290,150,85,35,16,7,4,2.5,2.3,2.3,2.3];
const gOrgLo   = [9000,6000,4200,2600,1600,950,560,300,140,60,25,7,1,0.3,0.1,0.05,0.05,0.05,0.05];
const gGrnHi   = [9000,6600,5000,3500,2400,1600,1050,680,440,260,160,95,40,18,15,9.5,9,5,3.5];
const gGrnLo   = [7500,5800,4300,2900,1950,1300,820,520,330,170,105,55,14,3,1,0.5,0.3,0.1,0.05];

// ---------- chart ----------
const FONT = 'Liberation Sans, Arial, sans-serif';
const TXT = '#333';
const chart = echarts.init(document.getElementById('chart'), null, { renderer: 'svg' });

function ln(name, xs, ys, gi, color, width, z) {
  return {
    name: name, type: 'line', xAxisIndex: gi, yAxisIndex: gi,
    data: xs.map((x, i) => [x, ys[i]]),
    symbol: 'none', color: color,
    lineStyle: { color: color, width: width },
    z: z || 3, silent: true, emphasis: { disabled: true }
  };
}

// shaded range between lo and hi, drawn as one polygon through the axes
function band(name, xs, lo, hi, gi, fill) {
  return {
    name: name, type: 'custom', xAxisIndex: gi, yAxisIndex: gi, silent: true, z: 1,
    data: xs.map((x, i) => [x, hi[i]]),
    renderItem: function (params, api) {
      if (params.dataIndex !== 0) return null;
      const pts = [];
      for (let i = 0; i < xs.length; i++) pts.push(api.coord([xs[i], hi[i]]));
      for (let i = xs.length - 1; i >= 0; i--) pts.push(api.coord([xs[i], lo[i]]));
      const cs = params.coordSys;
      return {
        type: 'polygon', shape: { points: pts }, style: { fill: fill },
        clipPath: { type: 'rect', shape: { x: cs.x, y: cs.y, width: cs.width, height: cs.height } }
      };
    }
  };
}

const gridBase = { show: true, borderColor: '#5a5a5a', borderWidth: 1, outerBoundsMode: 'none', containLabel: false };
const grids = [
  { left: 67, top: 8, width: 395, height: 364 },
  { left: 536, top: 8, width: 693, height: 362 },
  { left: 67, top: 412, width: 394, height: 363 },
  { left: 536, top: 412, width: 693, height: 362 },
  { left: 68, top: 877, width: 377, height: 346 },
  { left: 458, top: 877, width: 376, height: 345 },
  { left: 849, top: 877, width: 377, height: 345 }
].map(g => Object.assign({}, gridBase, g));

const split = { show: true, lineStyle: { color: '#e4e4e4', width: 1 } };
function axis(extra) {
  return Object.assign({
    axisLine: { show: false }, axisTick: { show: false }, splitLine: split,
    nameMoveOverlap: false,
    nameTextStyle: { color: TXT, fontFamily: FONT }
  }, extra);
}
const lbl = (size, extra) => Object.assign({ color: TXT, fontSize: size, fontFamily: FONT }, extra);

const magX = (gi, show) => axis({
  gridIndex: gi, type: 'value', min: -2, max: 2, interval: 1,
  axisLabel: show ? lbl(15, { margin: 9 }) : { show: false }
});
const yearX = (gi, show) => axis({
  gridIndex: gi, type: 'value', min: 1880, max: 2020, interval: 20,
  axisLabel: show ? lbl(14, { margin: 9, formatter: v => String(v) }) : { show: false }
});
const breaksX = (gi) => axis({
  gridIndex: gi, type: 'value', min: 0, max: 18, interval: 2,
  axisLabel: lbl(12, { margin: 7 }),
  name: 'Number of breaks', nameLocation: 'middle', nameGap: 20,
  nameTextStyle: { color: TXT, fontFamily: FONT, fontSize: 14 }
});
const countY = (gi) => axis({
  gridIndex: gi, type: 'value', min: 0, max: 5500, interval: 1000,
  axisLabel: lbl(15, { margin: 6, formatter: v => (v > 0 && v <= 5000) ? String(v) : '' }),
  name: 'Count', nameLocation: 'middle', nameGap: 41,
  nameTextStyle: { color: TXT, fontFamily: FONT, fontSize: 17 }
});
const freqY = (gi) => axis({
  gridIndex: gi, type: 'value', min: 0, max: 6, interval: 1,
  axisLabel: lbl(14, { margin: 5, formatter: v => v <= 5 ? String(v) : '' }),
  name: 'Adjustment frequency (% per year)', nameLocation: 'middle', nameGap: 18,
  nameTextStyle: { color: TXT, fontFamily: FONT, fontSize: 18 }
});
const logY = (gi, show) => axis({
  gridIndex: gi, type: 'log', logBase: 10, min: 1, max: 10000,
  axisLabel: show ? lbl(12, {
    margin: 5,
    formatter: v => '10{s|' + Math.round(Math.log10(v)) + '}',
    rich: { s: { fontSize: 8, color: TXT, fontFamily: FONT, padding: [0, 0, 7, 0] } }
  }) : { show: false },
  name: show ? 'Station count' : '', nameLocation: 'middle', nameGap: 25,
  nameTextStyle: { color: TXT, fontFamily: FONT, fontSize: 13 }
});

const xAxes = [magX(0, false), yearX(1, false), magX(2, true), yearX(3, true), breaksX(4), breaksX(5), breaksX(6)];
xAxes[2].name = '{n|Magnitude of adjusted breaks (}{s|o}{n|C)}';
xAxes[2].nameLocation = 'middle';
xAxes[2].nameGap = 30;
xAxes[2].nameTextStyle = { color: TXT, fontFamily: FONT, fontSize: 17,
  rich: { n: { fontSize: 17, color: TXT, fontFamily: FONT }, s: { fontSize: 11, color: TXT, fontFamily: FONT, padding: [0, 0, 9, 0] } } };
xAxes[3].name = 'Year';
xAxes[3].nameLocation = 'middle';
xAxes[3].nameGap = 26;
xAxes[3].nameTextStyle = { color: TXT, fontFamily: FONT, fontSize: 16 };

const yAxes = [countY(0), freqY(1), countY(2), freqY(3), logY(4, true), logY(5, false), logY(6, false)];

// colours
const C = {
  red: '#ee2424', redD: '#b01010', blue: '#2626e8', blueD: '#1c1c8a',
  green: '#1f9e34', greenD: '#0e5a1c', black: '#111111',
  orange: '#f2962a', orangeD: '#b0650f', ltBlue: '#3a90ea', ltBlueD: '#23539c',
  ltGreen: '#2ecf4a', ltGreenD: '#168a2a',
  redBand: 'rgba(255,110,110,0.36)', blueBand: 'rgba(120,120,255,0.33)', greenBand: 'rgba(60,190,100,0.30)',
  orangeBand: 'rgba(250,170,90,0.38)', ltBlueBand: 'rgba(100,170,245,0.35)', ltGreenBand: 'rgba(80,220,120,0.30)',
  grayBand: 'rgba(150,150,150,0.45)'
};

const series = [
  // a
  band('a-r', magBins, pha1It1Lo, pha1It1Hi, 0, C.redBand),
  band('a-b', magBins, pha1It2Lo, pha1It2Hi, 0, C.blueBand),
  band('a-g', magBins, pha1It3Lo, pha1It3Hi, 0, C.greenBand),
  ln('PHA₁ Itr 1', magBins, pha1It1Mean, 0, C.red, 3),
  ln('a-r-comb', magBins, pha1It1Comb, 0, C.redD, 1),
  ln('PHA₁ Itr 2', magBins, pha1It2Mean, 0, C.blue, 3),
  ln('a-b-comb', magBins, pha1It2Comb, 0, C.blueD, 1),
  ln('PHA₁ Itr 3-N', magBins, pha1It3Mean, 0, C.green, 3),
  ln('a-g-comb', magBins, pha1It3Comb, 0, C.greenD, 1),
  ln('PHA₀', magBins, pha0Mag, 0, C.black, 1.2, 5),
  // b
  band('b-r', years, redLo, redHi, 1, C.redBand),
  band('b-b', years, blueLo, blueHi, 1, C.blueBand),
  band('b-g', years, greenLo, greenHi, 1, C.greenBand),
  ln('b-r-mean', years, redMean, 1, C.red, 2),
  ln('b-r-comb', years, redComb, 1, C.redD, 1),
  ln('b-b-mean', years, blueMean, 1, C.blue, 2),
  ln('b-b-comb', years, blueComb, 1, C.blueD, 1),
  ln('b-g-mean', years, greenMean, 1, C.green, 2),
  ln('b-g-comb', years, greenComb, 1, C.greenD, 1),
  ln('b-pha0', years, pha0Year, 1, C.black, 1, 5),
  // c
  band('c-o', magBins, pha2It1Lo, pha2It1Hi, 2, C.orangeBand),
  band('c-lb', magBins, pha2It2Lo, pha2It2Hi, 2, C.ltBlueBand),
  band('c-lg', magBins, pha2It3Lo, pha2It3Hi, 2, C.ltGreenBand),
  ln('PHA₂ Itr 1', magBins, pha2It1Mean, 2, C.orange, 3),
  ln('c-o-comb', magBins, pha2It1Comb, 2, C.orangeD, 1),
  ln('PHA₂ Itr 2', magBins, pha2It2Mean, 2, C.ltBlue, 3),
  ln('c-lb-comb', magBins, pha2It2Comb, 2, C.ltBlueD, 1),
  ln('PHA₂ Itr 3-N', magBins, pha2It3Mean, 2, C.ltGreen, 3),
  ln('c-lg-comb', magBins, pha2It3Comb, 2, C.ltGreenD, 1),
  ln('c-pha0', magBins, pha0Mag, 2, C.black, 1.2, 5),
  // d
  band('d-o', years, orangeLo, orangeHi, 3, C.orangeBand),
  band('d-lb', years, ltBlueLo, ltBlueHi, 3, C.ltBlueBand),
  band('d-lg', years, ltGreenLo, ltGreenHi, 3, C.ltGreenBand),
  ln('d-o-mean', years, orangeMean, 3, C.orange, 2),
  ln('d-o-comb', years, orangeComb, 3, C.orangeD, 1),
  ln('d-lb-mean', years, ltBlueMean, 3, C.ltBlue, 2),
  ln('d-lb-comb', years, ltBlueComb, 3, C.ltBlueD, 1),
  ln('d-lg-mean', years, ltGreenMean, 3, C.ltGreen, 2),
  ln('d-lg-comb', years, ltGreenComb, 3, C.ltGreenD, 1),
  ln('d-pha0', years, pha0Year, 3, C.black, 1, 5),
  // e
  band('e-band', nBreaks, eBandLo, eBandHi, 4, C.grayBand),
  ln('e-pha0', nBreaks, ePha0, 4, C.black, 2.5),
  // f
  band('f-r', nBreaks, fRedLo, fRedHi, 5, 'rgba(255,120,120,0.36)'),
  band('f-g', nBreaks, fGrnLo, fGrnHi, 5, 'rgba(60,200,110,0.30)'),
  ln('f-it1', nBreaks, fPha1It1, 5, '#ee1c1c', 2.5),
  ln('PHA₁ after Itr N', nBreaks, fPha1N, 5, '#1a9a2a', 2.5),
  // g
  band('g-o', nBreaks, gOrgLo, gOrgHi, 6, 'rgba(250,170,90,0.38)'),
  band('g-g', nBreaks, gGrnLo, gGrnHi, 6, 'rgba(80,220,120,0.30)'),
  ln('g-it1', nBreaks, gPha2It1, 6, '#ec8a1e', 2.5),
  ln('PHA₂ after Itr N', nBreaks, gPha2N, 6, '#2ac83c', 2.5)
];

// legend keys are plain lines: the default circle marker is made invisible
const legBase = {
  orient: 'vertical', borderColor: '#333', borderWidth: 1, backgroundColor: '#fff',
  itemWidth: 26, itemHeight: 12, selectedMode: false, z: 10,
  itemStyle: { opacity: 0 },
  textStyle: { color: TXT, fontSize: 16, fontFamily: FONT }
};
const legends = [
  Object.assign({}, legBase, { left: 320, top: 14, padding: [6, 6, 6, 7], itemGap: 6,
    data: ['PHA₁ Itr 1', 'PHA₁ Itr 2', 'PHA₁ Itr 3-N', 'PHA₀'] }),
  Object.assign({}, legBase, { left: 305, top: 418, padding: [6, 18, 6, 7], itemGap: 6,
    data: ['PHA₂ Itr 1', 'PHA₂ Itr 2', 'PHA₂ Itr 3-N', 'PHA₀'] }),
  Object.assign({}, legBase, { left: 349, top: 885, padding: [4, 8, 4, 8], itemGap: 5,
    data: [{ name: 'PHA₀', lineStyle: { width: 2.5 } }] }),
  Object.assign({}, legBase, { left: 657, top: 884, padding: [6, 19, 6, 12], itemGap: 4,
    data: ['PHA₁ Itr 1', 'PHA₁ after Itr N'] }),
  Object.assign({}, legBase, { left: 1039, top: 884, padding: [7, 26, 7, 12], itemGap: 5,
    data: ['PHA₂ Itr 1', 'PHA₂ after Itr N'] })
];

// shared legend of b and d (multi-coloured keys)
const meanKeys = [C.red, C.blue, C.green, C.orange, C.ltBlue, C.ltGreen];
const combKeys = [C.redD, C.blueD, C.greenD, C.orangeD, C.ltBlueD, C.ltGreenD];
const overlay = [{ type: 'rect', shape: { x: 970, y: 366, width: 249, height: 52 },
  style: { fill: '#fff', stroke: '#333', lineWidth: 1 }, z: 100 }];
meanKeys.forEach((c, i) => overlay.push({ type: 'line', z: 101,
  shape: { x1: 982 + i * 11.5, y1: 381, x2: 993.5 + i * 11.5, y2: 381 }, style: { stroke: c, lineWidth: 4 } }));
combKeys.forEach((c, i) => overlay.push({ type: 'line', z: 101,
  shape: { x1: 982 + i * 11.5, y1: 403, x2: 993.5 + i * 11.5, y2: 403 }, style: { stroke: c, lineWidth: 1.5 } }));
overlay.push({ type: 'text', x: 1075, y: 381, z: 101,
  style: { text: 'PHA mean', fill: TXT, fontSize: 16, fontFamily: FONT, verticalAlign: 'middle' } });
overlay.push({ type: 'text', x: 1075, y: 403, z: 101,
  style: { text: 'PHA para comb 1', fill: TXT, fontSize: 16, fontFamily: FONT, verticalAlign: 'middle' } });

// panel letters
const letters = [['a', 88, 53], ['b', 556, 52], ['c', 88, 456], ['d', 556, 456], ['e', 88, 1211], ['f', 480, 1209], ['g', 868, 1209]];
letters.forEach(l => overlay.push({ type: 'text', x: l[1], y: l[2], z: 101,
  style: { text: l[0], fill: '#111', fontSize: 28, fontFamily: FONT, verticalAlign: 'bottom' } }));

chart.setOption({
  animation: false,
  backgroundColor: '#fff',
  textStyle: { fontFamily: FONT },
  grid: grids,
  xAxis: xAxes,
  yAxis: yAxes,
  legend: legends,
  graphic: overlay,
  series: series
});
</script>
</body>
</html>
